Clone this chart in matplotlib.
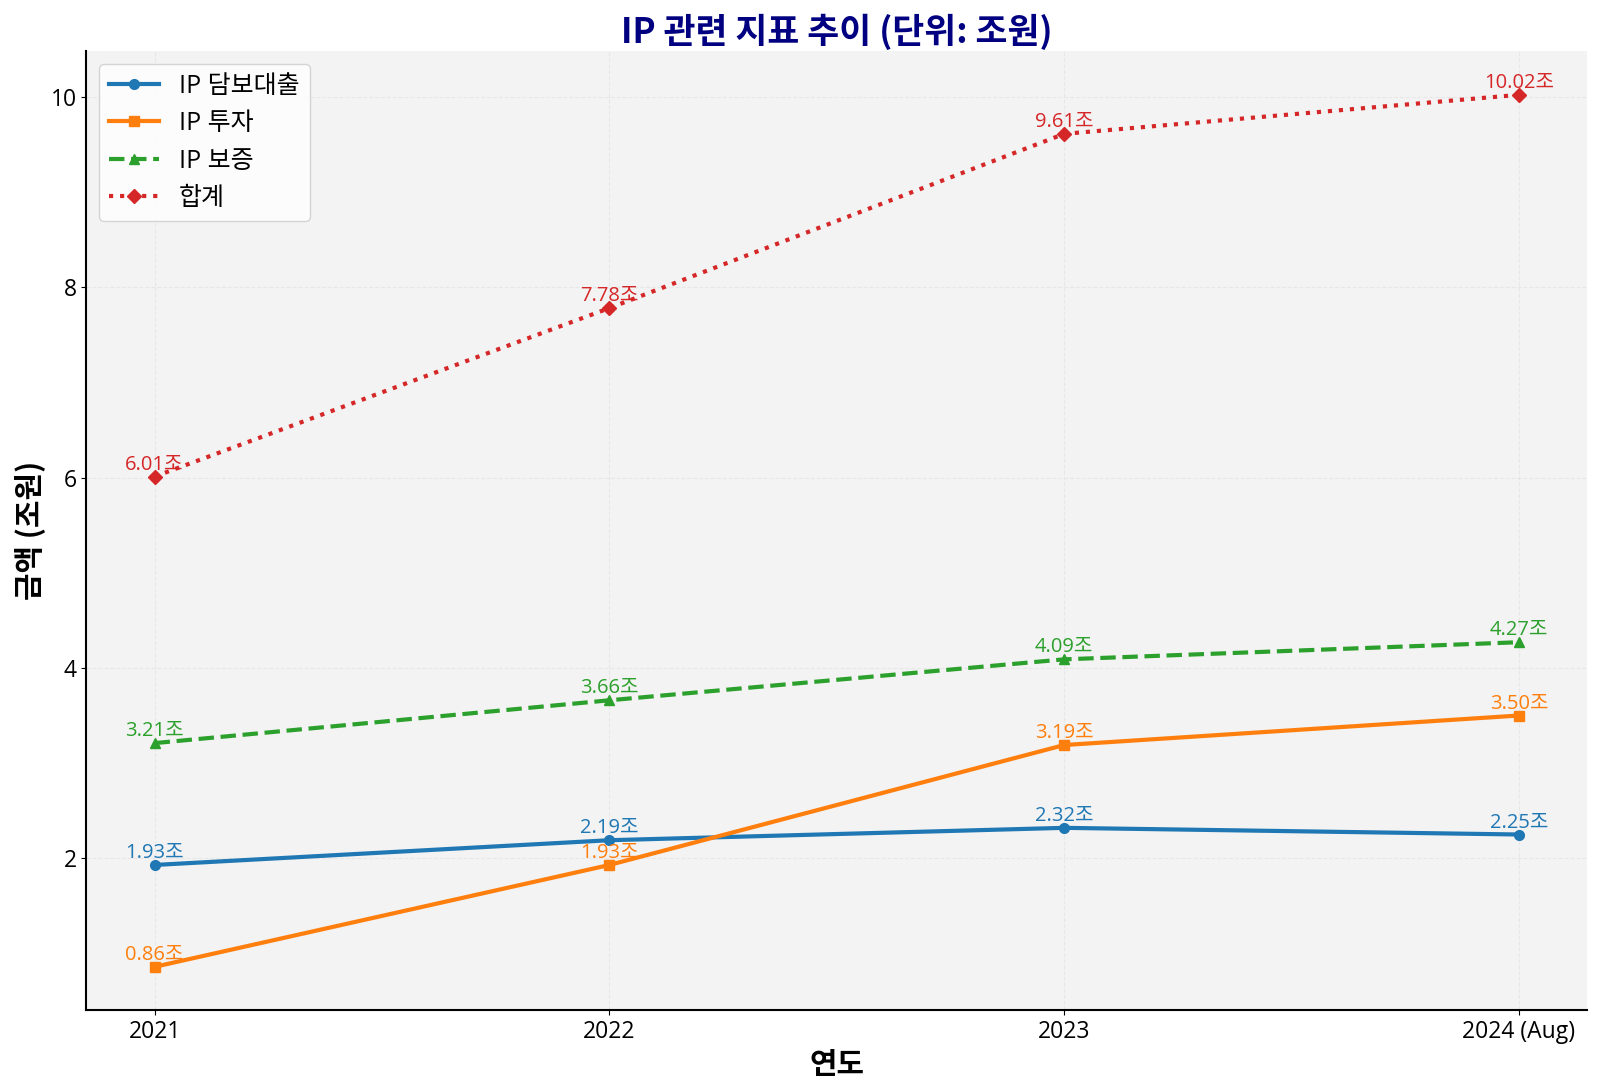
import matplotlib
matplotlib.use('Agg')
import matplotlib.pyplot as plt

plt.rcParams['font.family'] = ['Open Sans', 'Noto Sans CJK KR', 'DejaVu Sans']
KR = ['Noto Sans CJK KR', 'DejaVu Sans']

years = ['2021', '2022', '2023', '2024 (Aug)']
loan = [1.93, 2.19, 2.32, 2.25]
invest = [0.86, 1.93, 3.19, 3.50]
guarantee = [3.21, 3.66, 4.09, 4.27]
total = [6.01, 7.78, 9.61, 10.02]

series = [
    ('IP 담보대출', loan, '#1f77b4', '-', 'o'),
    ('IP 투자', invest, '#ff7f0e', '-', 's'),
    ('IP 보증', guarantee, '#2ca02c', '--', '^'),
    ('합계', total, '#d62728', ':', 'D'),
]

fig, ax = plt.subplots(figsize=(16, 10.9), dpi=100)
fig.subplots_adjust(left=0.054, right=0.992, top=0.953, bottom=0.073)
ax.set_facecolor('#f3f3f3')

x = list(range(len(years)))
for name, vals, color, ls, mk in series:
    ax.plot(x, vals, color=color, linestyle=ls, marker=mk, linewidth=3,
            markersize=7, label=name)
    for xi, v in zip(x, vals):
        ax.annotate(f'{v:.2f}조', (xi, v), textcoords='offset points',
                    xytext=(0, 5), ha='center', color=color, fontsize=14.5)

ax.set_xticks(x)
ax.set_xticklabels(years)
ax.tick_params(labelsize=16.5)
ax.set_xlabel('연도', fontsize=21.5, fontweight='bold', family=KR)
ax.set_ylabel('금액 (조원)', fontsize=21.5, fontweight='bold', family=KR)
ax.set_title('IP 관련 지표 추이 (단위: 조원)', fontsize=25, fontweight='bold',
             color='navy', family=KR)
ax.grid(True, linestyle='--', alpha=0.5, color='#dddddd')
ax.spines['top'].set_visible(False)
ax.spines['right'].set_visible(False)
ax.spines['left'].set_linewidth(1.5)
ax.spines['bottom'].set_linewidth(1.5)
ax.legend(loc='upper left', fontsize=18)

fig.savefig('out.png')
